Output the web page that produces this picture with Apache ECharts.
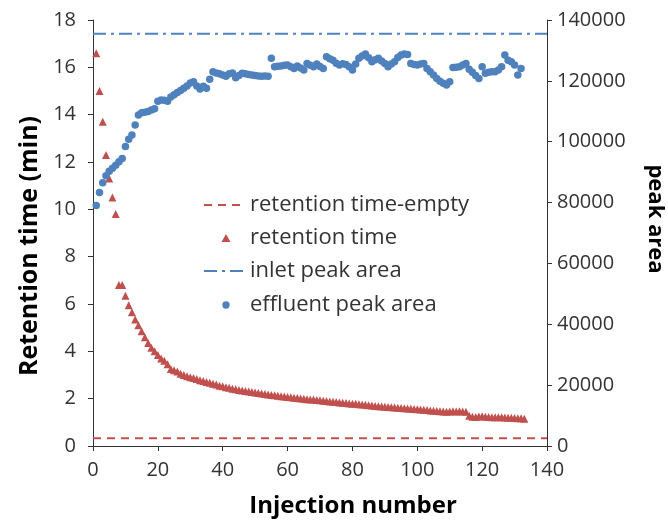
<!DOCTYPE html>
<html>
<head>
<meta charset="utf-8">
<script src="https://cdn.jsdelivr.net/npm/echarts@6/dist/echarts.min.js"></script>
<style>
  html, body { margin: 0; padding: 0; background: #fff; }
  #chart { width: 668px; height: 522px; }
</style>
</head>
<body>
<div id="chart"></div>
<script>
// Retention time (min) per injection, injections 1..133
const retentionTime = [
  16.6, 15.0, 13.7, 12.3, 11.3, 10.5, 9.8, 6.8, 6.8, 6.35,
  5.95, 5.65, 5.35, 5.1, 4.85, 4.6, 4.35, 4.15, 4.0, 3.85,
  3.7, 3.6, 3.45, 3.25, 3.2, 3.15, 3.05, 3.0, 2.95, 2.9,
  2.87, 2.83, 2.78, 2.75, 2.7, 2.67, 2.63, 2.6, 2.55, 2.52,
  2.48, 2.46, 2.42, 2.4, 2.37, 2.35, 2.32, 2.3, 2.28, 2.26,
  2.24, 2.22, 2.2, 2.18, 2.16, 2.14, 2.12, 2.1, 2.09, 2.07,
  2.06, 2.04, 2.03, 2.01, 2.0, 1.98, 1.97, 1.96, 1.94, 1.93,
  1.91, 1.9, 1.88, 1.87, 1.86, 1.84, 1.83, 1.82, 1.8, 1.79,
  1.78, 1.76, 1.75, 1.74, 1.72, 1.71, 1.69, 1.68, 1.67, 1.66,
  1.65, 1.64, 1.63, 1.62, 1.61, 1.59, 1.58, 1.57, 1.56, 1.55,
  1.54, 1.53, 1.52, 1.5, 1.49, 1.48, 1.47, 1.46, 1.45, 1.46,
  1.47, 1.46, 1.47, 1.46, 1.45, 1.28, 1.24, 1.23, 1.25, 1.26,
  1.24, 1.23, 1.22, 1.22, 1.21, 1.21, 1.2, 1.19, 1.19, 1.18,
  1.17, 1.17, 1.15
];

// Effluent peak area per injection, injections 1..132
const effluentArea = [
  79000, 83300, 86500, 88800, 90300, 91300, 92300, 93400, 94500, 98400,
  100800, 102200, 105500, 108800, 109500, 109700, 109900, 110400, 110800, 113300,
  113700, 113600, 113300, 114700, 115400, 116200, 116800, 117600, 118300, 119300,
  119700, 118300, 117300, 118200, 117600, 120500, 123000, 122600, 122300, 121900,
  121500, 122300, 122600, 121000, 121800, 122500, 122300, 122100, 121900, 121800,
  121600, 121500, 121600, 121500, 127400, 124600, 124800, 124900, 125100, 125200,
  124600, 124100, 124900, 124200, 123600, 125700, 125100, 124600, 125500, 124700,
  124100, 127900, 127300, 126800, 125800, 125200, 125600, 125400, 124600, 123600,
  125500, 127400, 128200, 128800, 127600, 126300, 126900, 127400, 126500, 125700,
  124600, 125500, 126300, 127700, 128500, 128800, 128700, 125700, 125400, 125200,
  125500, 125700, 124100, 123000, 121900, 120800, 119900, 119200, 118600, 119700,
  124400, 124500, 124600, 125200, 125700, 123800, 122800, 121800, 120800, 124600,
  122500, 122800, 123000, 123000, 123600, 124600, 128500, 126800, 126300, 125200,
  121900, 124100
];

// Reference levels
const retentionEmpty = 0.33;   // min, empty column
const inletArea = 135500;      // inlet peak area

// Axis ranges / ticks
const xTicks = { min: 0, max: 140, step: 20 };
const leftTicks = { min: 0, max: 18, step: 2 };
const rightTicks = { min: 0, max: 140000, step: 20000 };

const seriesNames = ['retention time-empty', 'retention time', 'inlet peak area', 'effluent peak area'];
const axisTitles = { x: 'Injection number', left: 'Retention time (min)', right: 'peak area' };

const RED = '#C0504D';
const BLUE = '#4F81BD';
const FONT = '"Open Sans"';
const RED_DASH = [8, 6];
const BLUE_DASHDOT = [13, 5, 3, 5];

const rtPoints = retentionTime.map((v, i) => [i + 1, v]);
const areaPoints = effluentArea.map((v, i) => [i + 1, v]);
const emptyLine = [[xTicks.min, retentionEmpty], [xTicks.max, retentionEmpty]];
const inletLine = [[xTicks.min, inletArea], [xTicks.max, inletArea]];

const axisLine = { show: true, lineStyle: { color: '#333', width: 1 } };
const axisTick = { show: true, inside: false, length: 5, lineStyle: { color: '#333' } };
const labelBase = { color: '#333', fontFamily: 'Open Sans', fontSize: 20 };

// Legend drawn as a small block of samples + text
const LEG_X = 204, LEG_TEXT_X = 250, LEG_ROWS = [205, 238, 271, 305];
const legendFont = '22px ' + FONT;
const legendGraphics = [
  { type: 'line', shape: { x1: LEG_X, y1: LEG_ROWS[0], x2: LEG_X + 42, y2: LEG_ROWS[0] },
    style: { stroke: RED, lineWidth: 2, lineDash: RED_DASH } },
  { type: 'polygon', shape: { points: [[226, LEG_ROWS[1] - 4], [221.5, LEG_ROWS[1] + 4], [230.5, LEG_ROWS[1] + 4]] },
    style: { fill: RED } },
  { type: 'line', shape: { x1: LEG_X, y1: LEG_ROWS[2], x2: LEG_X + 42, y2: LEG_ROWS[2] },
    style: { stroke: BLUE, lineWidth: 2, lineDash: BLUE_DASHDOT } },
  { type: 'circle', shape: { cx: 226, cy: LEG_ROWS[3], r: 3.7 }, style: { fill: BLUE } }
].concat(seriesNames.map((name, i) => ({
  type: 'text', x: LEG_TEXT_X, y: LEG_ROWS[i],
  style: { text: name, font: legendFont, fill: '#333', align: 'left', verticalAlign: 'middle' }
})));

const titleGraphics = [
  { type: 'text', x: 353, y: 506,
    style: { text: axisTitles.x, font: 'bold 24px ' + FONT, fill: '#000', align: 'center', verticalAlign: 'middle' } },
  { type: 'text', x: 30, y: 246, rotation: Math.PI / 2,
    style: { text: axisTitles.left, font: 'bold 25px ' + FONT, fill: '#000', align: 'center', verticalAlign: 'middle' } },
  { type: 'text', x: 655, y: 219, rotation: -Math.PI / 2,
    style: { text: axisTitles.right, font: 'bold 22px ' + FONT, fill: '#000', align: 'center', verticalAlign: 'middle' } }
];

const chart = echarts.init(document.getElementById('chart'), null, { renderer: 'canvas' });
chart.setOption({
  animation: false,
  backgroundColor: '#fff',
  grid: { left: 93, right: 121, top: 20, bottom: 76, containLabel: false },
  xAxis: {
    type: 'value', min: xTicks.min, max: xTicks.max, interval: xTicks.step,
    axisLine, axisTick, axisLabel: Object.assign({ margin: 14 }, labelBase),
    splitLine: { show: false }
  },
  yAxis: [
    {
      type: 'value', position: 'left', min: leftTicks.min, max: leftTicks.max, interval: leftTicks.step,
      axisLine, axisTick, axisLabel: Object.assign({ margin: 17 }, labelBase),
      splitLine: { show: false }
    },
    {
      type: 'value', position: 'right', min: rightTicks.min, max: rightTicks.max, interval: rightTicks.step,
      axisLine, axisTick,
      axisLabel: Object.assign({ margin: 10, formatter: v => String(v) }, labelBase),
      splitLine: { show: false }
    }
  ],
  graphic: legendGraphics.concat(titleGraphics),
  series: [
    {
      name: seriesNames[0], type: 'line', yAxisIndex: 0, data: emptyLine,
      symbol: 'none', lineStyle: { color: RED, width: 2, type: RED_DASH }, z: 2
    },
    {
      name: seriesNames[1], type: 'scatter', yAxisIndex: 0, data: rtPoints,
      symbol: 'triangle', symbolSize: 8, itemStyle: { color: RED, opacity: 1 }, z: 3
    },
    {
      name: seriesNames[2], type: 'line', yAxisIndex: 1, data: inletLine,
      symbol: 'none', lineStyle: { color: BLUE, width: 2, type: BLUE_DASHDOT }, z: 2
    },
    {
      name: seriesNames[3], type: 'scatter', yAxisIndex: 1, data: areaPoints,
      symbol: 'circle', symbolSize: 7.5, itemStyle: { color: BLUE, opacity: 1 }, z: 4
    }
  ]
});
</script>
</body>
</html>
